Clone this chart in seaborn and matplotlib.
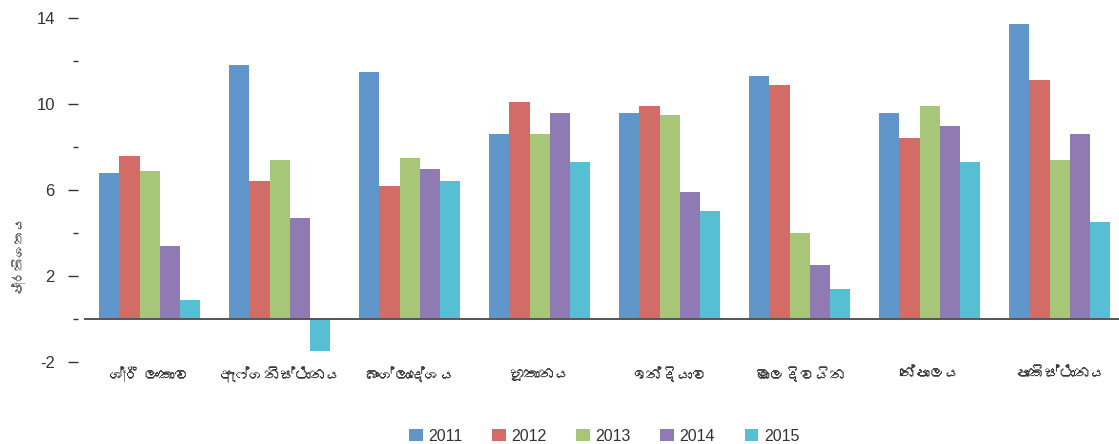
#!/usr/bin/env python3
"""Grouped bar chart: yearly percentages for South Asian countries (2011-2015)."""

import pandas as pd
import matplotlib
matplotlib.use("Agg")
import matplotlib.pyplot as plt
import seaborn as sns
from matplotlib import font_manager, ft2font
from matplotlib.ticker import FixedLocator, NullFormatter

# Data
countries = ["ශ්‍රී ලංකාව", "ඇෆ්ගනිස්ථානය", "බංග්ලාදේශය", "භූතානය",
             "ඉන්දියාව", "මාලදිවයින", "නේපාලය", "පාකිස්ථානය"]
years = ["2011", "2012", "2013", "2014", "2015"]
v2011 = [6.8, 11.8, 11.5, 8.6, 9.6, 11.3, 9.6, 13.7]
v2012 = [7.6, 6.4, 6.2, 10.1, 9.9, 10.9, 8.4, 11.1]
v2013 = [6.9, 7.4, 7.5, 8.6, 9.5, 4.0, 9.9, 7.4]
v2014 = [3.4, 4.7, 7.0, 9.6, 5.9, 2.5, 9.0, 8.6]
v2015 = [0.9, -1.5, 6.4, 7.3, 5.0, 1.4, 7.3, 4.5]
colors = ["#6096c9", "#d36c67", "#a7c677", "#8f7ab4", "#56bfd3"]
y_label = "ප්‍රතිශතය"


def find_font(codepoint):
    """Return the name of an installed font that covers the given codepoint."""
    for entry in font_manager.fontManager.ttflist:
        try:
            if codepoint in ft2font.FT2Font(entry.fname).get_charmap():
                return entry.name
        except Exception:
            pass
    return None


sns.set_theme(style="white")
sinhala = find_font(0x0DBD)
families = ["Liberation Sans", "DejaVu Sans"]
if sinhala:
    families = ["Liberation Sans", sinhala, "DejaVu Sans"]
plt.rcParams["font.family"] = families
plt.rcParams["axes.unicode_minus"] = False

rows = []
for year, vals in zip(years, [v2011, v2012, v2013, v2014, v2015]):
    for c, v in zip(countries, vals):
        rows.append({"country": c, "year": year, "value": v})
df = pd.DataFrame(rows)

fig = plt.figure(figsize=(11.19, 4.44), dpi=100)
ax = fig.add_axes([0.0757, 0.1847, 0.9294, 0.8038])

sns.barplot(data=df, x="country", y="value", hue="year", order=countries,
            hue_order=years, palette=colors, width=0.78, saturation=1,
            gap=0, errorbar=None, linewidth=0, ax=ax)

ax.set_xlim(-0.5, 7.5)
ax.set_ylim(-2, 14.6)
ax.set_xlabel("")
ax.set_ylabel("")

# spines: only the zero line
for side in ["top", "right", "left"]:
    ax.spines[side].set_visible(False)
ax.spines["bottom"].set_position(("data", 0))
ax.spines["bottom"].set_color("#555555")
ax.spines["bottom"].set_linewidth(1.4)
ax.spines["bottom"].set_zorder(5)

# x ticks: labels at group centres, separator ticks between groups
ax.xaxis.set_minor_locator(FixedLocator([i + 0.5 for i in range(7)]))
ax.xaxis.set_minor_formatter(NullFormatter())
ax.tick_params(axis="x", which="major", length=0, pad=35, labelsize=11,
               labelcolor="#333333")
ax.tick_params(axis="x", which="minor", length=9.5, width=1.2,
               direction="inout", color="#333333")

# y ticks: labelled majors, unlabelled minors, no spine
ax.set_yticks([-2, 2, 6, 10, 14])
ax.yaxis.set_minor_locator(FixedLocator([0, 4, 8, 12]))
ax.spines["left"].set_position(("outward", 5))
ax.tick_params(axis="y", which="major", left=True, length=7.5, width=1,
               color="#333333", pad=9, labelsize=12, labelcolor="#333333")
ax.tick_params(axis="y", which="minor", left=True, length=3.5, width=1,
               color="#333333")

fig.text(0.016, 0.43, y_label, rotation=90, ha="center", va="center",
         fontsize=9.5, color="#555555")

handles, labels = ax.get_legend_handles_labels()
ax.get_legend().remove()
fig.legend(handles, labels, loc="center", bbox_to_anchor=(0.54, 0.018),
           ncol=5, frameon=False, fontsize=11.5, handlelength=0.85,
           handleheight=0.85, handletextpad=0.35, columnspacing=1.85,
           labelcolor="#333333")

fig.savefig("out.png", dpi=100)
